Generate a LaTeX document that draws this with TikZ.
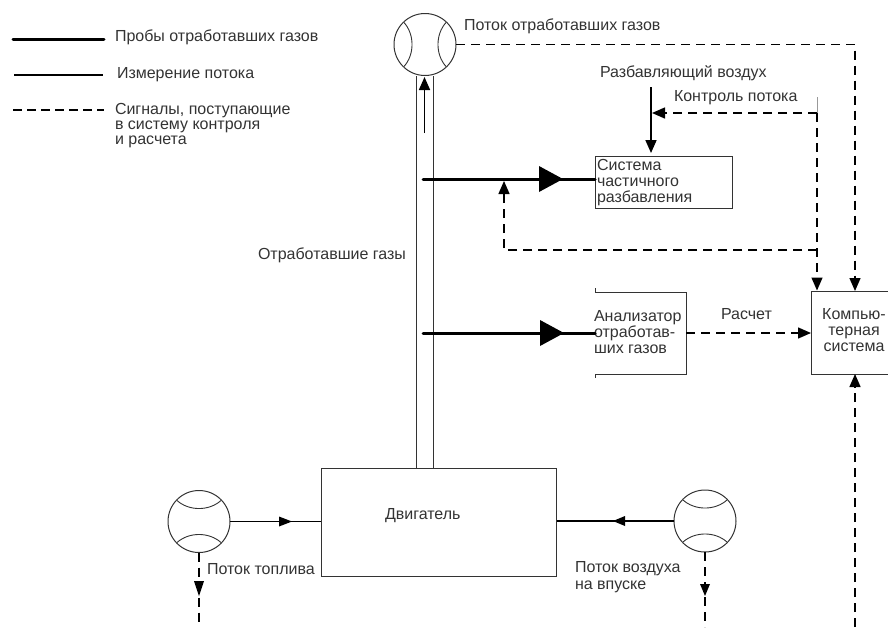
\documentclass[tikz,border=0pt]{standalone}
\usepackage{fontspec}
\setmainfont{Liberation Sans}
\usetikzlibrary{arrows.meta,positioning}
\definecolor{ink}{HTML}{333333}
\tikzset{
 lbl/.style={inner sep=0pt,outer sep=0pt,font=\fontsize{16}{16}\selectfont,text=ink,align=left},
 boxn/.style={draw=ink,line width=1pt,inner sep=0pt,outer sep=0pt},
 meter/.style={draw=ink,line width=1pt,circle,minimum size=62pt,inner sep=0pt,outer sep=0pt},
 bigflow/.style={line width=3pt,black},
 thinflow/.style={line width=1.7pt,black},
 dashflow/.style={line width=1.4pt,black,dash pattern=on 9pt off 6pt},
 smalltip/.style={-{Triangle[length=13pt,width=11pt]}},
 pipeline/.style={draw=ink,line width=1pt},
 arcline/.style={draw=ink,line width=.9pt},
}
\begin{document}
\begin{tikzpicture}[x=1pt,y=-1pt]
\useasboundingbox (0,0) rectangle (888,627);
% meters
\node[meter] (mE) at (425,44.5) {};
\node[meter] (mF) at (199,521.5) {};
\node[meter] (mA) at (705,521) {};
\foreach \m/\r in {mE/0,mF/90,mA/90}{
 \begin{scope}[shift={(\m.center)},rotate=\r]
  \draw[arcline] (-21,-22) .. controls (-10.3,-10) and (-10.3,10) .. (-21,22);
  \draw[arcline] (21,-22) .. controls (10.3,-10) and (10.3,10) .. (21,22);
 \end{scope}
}
% boxes
\node[boxn,minimum width=235.5pt,minimum height=108pt] (eng) at (438.75,522) {};
\node[lbl,anchor=west] (engt) at (385,516) {Двигатель};
\node[boxn,minimum width=137pt,minimum height=52pt] (dil) at (663.5,182) {};
\node[lbl,anchor=north west] (dilt) at (597,159.5) {Система\\частичного\\разбавления};
\node[inner sep=0pt,outer sep=0pt,minimum width=91pt,minimum height=82pt] (ana) at (640.5,333) {};
\draw[pipeline] ([yshift=4pt]ana.north west) -- (ana.north west) -- (ana.north east) -- (ana.south east) -- (ana.south west) -- ([yshift=-4pt]ana.south west);
\node[lbl,anchor=north west] (anat) at (594,310) {Анализатор\\отработав-\\ших газов};
\node[boxn,minimum width=90pt,minimum height=83pt] (comp) at (856,332.5) {};
\node[lbl,align=center] (compt) at (854,330) {Компью-\\терная\\система};
% pipe
\coordinate (pL) at (416,76);
\coordinate (pR) at (433,76);
\coordinate (pLb) at (416,468);
\coordinate (pRb) at (433,468);
\draw[pipeline] (pL) -- (pLb);
\draw[pipeline] (pR) -- (pRb);
\coordinate (i1) at (424.5,133);
\coordinate (i2) at (424.5,77);
\draw[thinflow,smalltip] (i1) -- (i2);
% sample lines
\coordinate (s1) at (423,179);
\coordinate (t1) at (563,179);
\draw[bigflow,line cap=round] (s1) -- (dil.west |- s1);
\fill[black] (539,166) -- (t1) -- (539,192) -- cycle;
\coordinate (s2) at (423,333);
\coordinate (t2) at (564,333);
\draw[bigflow,line cap=round] (s2) -- (ana.west);
\fill[black] (540,320) -- (t2) -- (540,346) -- cycle;
% dilution air
\coordinate (air) at (651,87);
\draw[thinflow,smalltip] (air) -- (651,153);
% control
\coordinate (ct) at (817,97);
\draw[ink!50,line width=.8pt] (ct) -- (817,113);
\coordinate (ca) at (652,113);
\draw[dashflow,smalltip] (817,113) -- (ca);
\draw[dashflow,smalltip] (817,113) -- (817,290.5);
\coordinate (cb) at (817,250);
\coordinate (cc) at (504,250);
\draw[dashflow,smalltip] (cb) -- (cc) -- (504,181);
% exhaust flow signal
\coordinate (e1) at (855,44.5);
\draw[dashflow,smalltip] (mE.east) -- (e1) -- (e1 |- comp.north);
% calc
\draw[dashflow,smalltip] (ana.east) -- (comp.west |- ana.east);
% bottom signal
\coordinate (b0) at (855,627);
\draw[dashflow,smalltip] (b0) -- (b0 |- comp.south);
% fuel & air
\draw[thinflow] (mF.east) -- (eng.west |- mF.east);
\fill[black] (279,516.5) -- (292,521.5) -- (279,526.5) -- cycle;
\draw[thinflow] (mA.west) -- (eng.east |- mA.west);
\fill[black] (625,516) -- (613,521) -- (625,526) -- cycle;
\coordinate (fb) at (199,627);
\coordinate (ab) at (705,627);
\draw[dashflow] (mF.south) -- (fb);
\fill[black] (194,581) -- (204,581) -- (199,596) -- cycle;
\draw[dashflow] (mA.south) -- (ab);
\fill[black] (700,584) -- (710,584) -- (705,596) -- cycle;
% labels
\node[lbl,anchor=west] (l1) at (464,26) {Поток отработавших газов};
\node[lbl,anchor=west] (l2) at (600,73) {Разбавляющий воздух};
\node[lbl,anchor=west] (l3) at (674,98) {Контроль потока};
\node[lbl,anchor=west] (l4) at (258,255) {Отработавшие газы};
\node[lbl,anchor=west] (l5) at (721,314) {Расчет};
\node[lbl,anchor=west] (l6) at (207,569) {Поток топлива};
\node[lbl,anchor=north west,font=\fontsize{16}{17.5}\selectfont] (l7) at (575,561) {Поток воздуха\\на впуске};
% legend
\coordinate (a1) at (13,39); \coordinate (a2) at (104,39);
\draw[line width=3pt,black,line cap=round] (a1) -- (a2);
\coordinate (b1) at (14,75); \coordinate (b2) at (103,75);
\draw[line width=1.4pt,black] (b1) -- (b2);
\coordinate (c1) at (13,110); \coordinate (c2) at (104,110);
\draw[line width=1.2pt,black,dash pattern=on 9pt off 5pt] (c1) -- (c2);
\node[lbl,anchor=west] (g1) at (115,37) {Пробы отработавших газов};
\node[lbl,anchor=west] (g2) at (117,75) {Измерение потока};
\node[lbl,anchor=north west,font=\fontsize{16}{15}\selectfont] (g3) at (115,103) {Сигналы, поступающие\\в систему контроля\\и расчета};
\end{tikzpicture}
\end{document}
